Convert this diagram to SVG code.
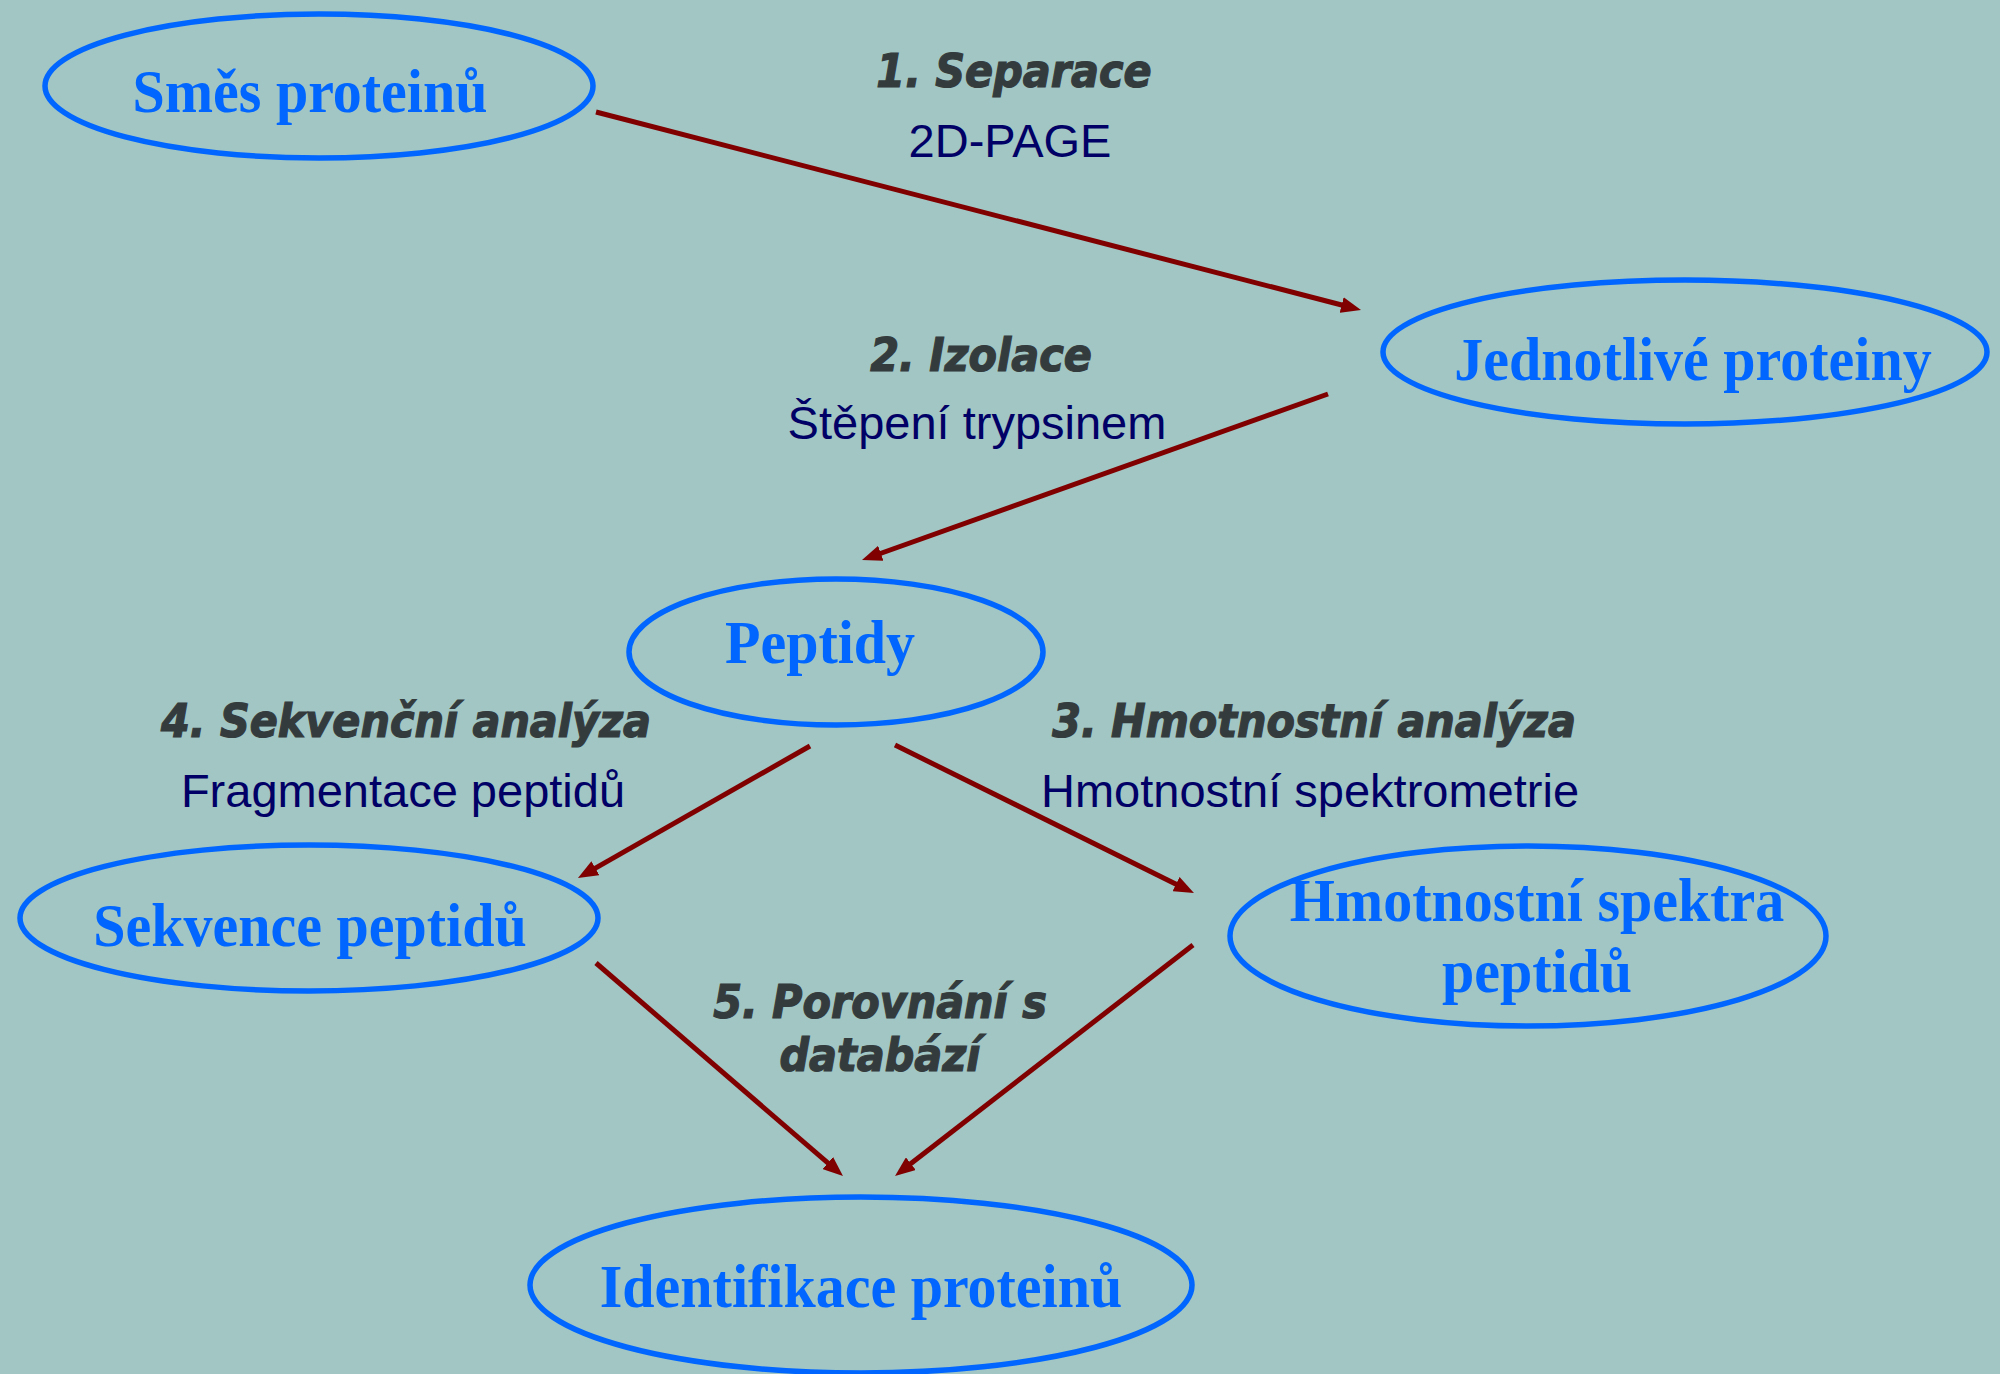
<svg xmlns="http://www.w3.org/2000/svg" width="2000" height="1374" viewBox="0 0 2000 1374">
  <style>
    .node ellipse { fill: none; stroke: #0066ff; stroke-width: 5.5; }
    .node text { font-family: "Liberation Serif", "Times New Roman", serif; font-weight: bold; font-size: 58px; fill: #0066ff; text-anchor: middle; }
    .step { font-family: "DejaVu Sans Condensed", "DejaVu Sans", sans-serif; font-stretch: condensed; font-weight: bold; font-style: italic; font-size: 46px; fill: #343b3d; stroke: #343b3d; stroke-width: 1.2; text-anchor: middle; }
    .method { font-family: "Liberation Sans", Arial, sans-serif; font-size: 47px; fill: #000066; text-anchor: middle; }
    .edges line { stroke: #800000; stroke-width: 5; marker-end: url(#arrow); }
  </style>
  <defs>
    <marker id="arrow" viewBox="0 0 20 16" refX="8" refY="8" markerWidth="20" markerHeight="16" markerUnits="userSpaceOnUse" orient="auto">
      <path d="M0,0 L20,8 L0,16 z" fill="#800000"/>
    </marker>
  </defs>

  <rect width="2000" height="1374" fill="#a1c6c4"/>

  <!-- connectors -->
  <g id="edges" class="edges">
    <line x1="596" y1="112" x2="1349.4" y2="307"/>
    <line x1="1328" y1="394" x2="873.3" y2="556"/>
    <line x1="810" y1="746" x2="588.4" y2="872.1"/>
    <line x1="895" y1="745" x2="1183.2" y2="887.7"/>
    <line x1="596" y1="963" x2="833.9" y2="1168.2"/>
    <line x1="1193" y1="945" x2="904.5" y2="1168.6"/>
  </g>

  <!-- step labels -->
  <g id="labels">
    <text class="step" x="1014" y="87">1. Separace</text>
    <text class="method" x="1010" y="157">2D-PAGE</text>
    <text class="step" x="981" y="371">2. Izolace</text>
    <text class="method" x="977" y="439">Štěpení trypsinem</text>
    <text class="step" x="406" y="737">4. Sekvenční analýza</text>
    <text class="method" x="403" y="807">Fragmentace peptidů</text>
    <text class="step" x="1314" y="737">3. Hmotnostní analýza</text>
    <text class="method" x="1310" y="807">Hmotnostní spektrometrie</text>
    <text class="step" x="880" y="1018">5. Porovnání s</text>
    <text class="step" x="880" y="1071">databází</text>
  </g>

  <!-- nodes -->
  <g id="node-smes" class="node">
    <ellipse cx="319" cy="86" rx="274" ry="72"/>
    <text transform="translate(310,112) scale(1,1.07)">Směs proteinů</text>
  </g>
  <g id="node-jednotlive" class="node">
    <ellipse cx="1685" cy="352" rx="302" ry="72"/>
    <text transform="translate(1693,380) scale(1,1.07)">Jednotlivé proteiny</text>
  </g>
  <g id="node-peptidy" class="node">
    <ellipse cx="836" cy="652" rx="207" ry="73"/>
    <text transform="translate(820,663) scale(1,1.07)">Peptidy</text>
  </g>
  <g id="node-sekvence" class="node">
    <ellipse cx="309" cy="918" rx="289" ry="73"/>
    <text transform="translate(310,946) scale(1,1.07)">Sekvence peptidů</text>
  </g>
  <g id="node-spektra" class="node">
    <ellipse cx="1528" cy="936" rx="298" ry="90"/>
    <text transform="translate(1537,921) scale(1,1.07)">Hmotnostní spektra</text>
    <text transform="translate(1537,992) scale(1,1.07)">peptidů</text>
  </g>
  <g id="node-identifikace" class="node">
    <ellipse cx="861" cy="1285" rx="331" ry="88"/>
    <text transform="translate(861,1307) scale(1,1.07)">Identifikace proteinů</text>
  </g>
</svg>
